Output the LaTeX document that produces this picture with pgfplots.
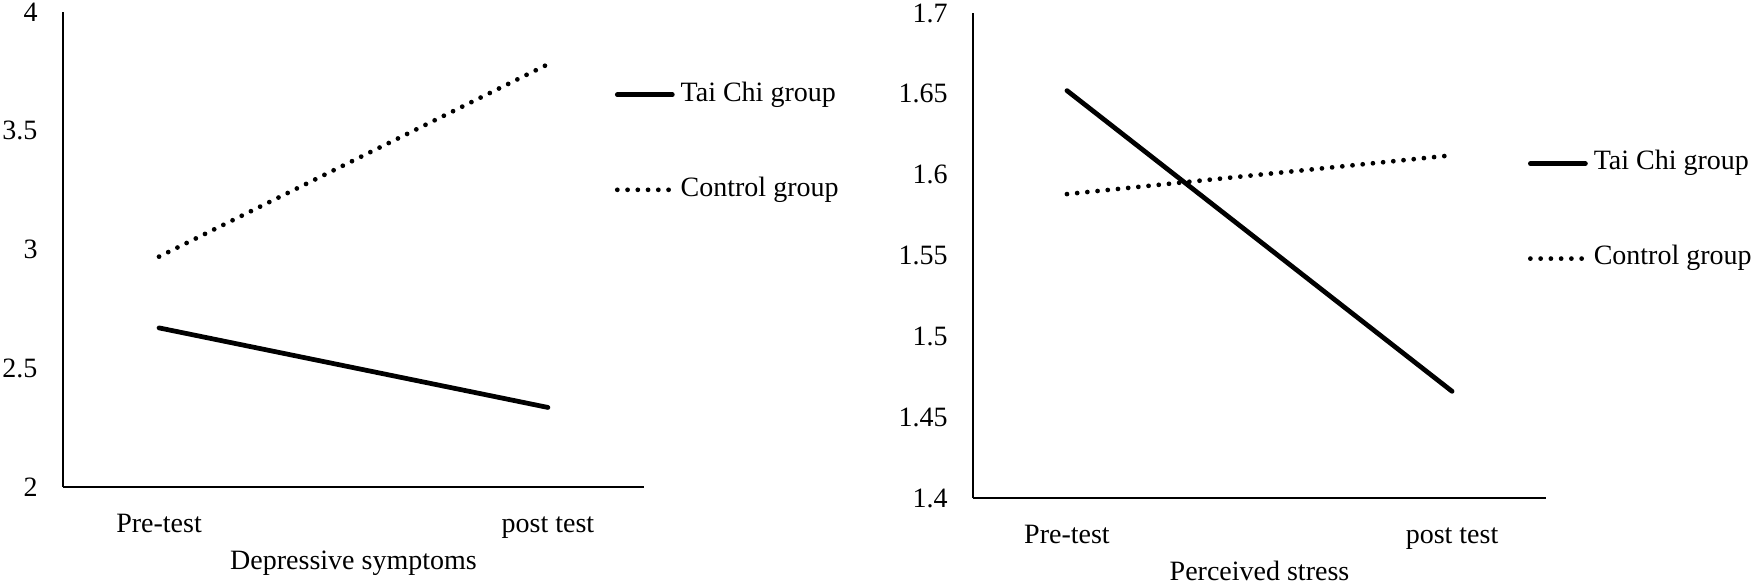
\documentclass[border=0pt]{standalone}
\usepackage{fontspec}
\setmainfont{Liberation Serif}
\newfontfamily\tnr{Liberation Serif}
\usepackage{pgfplots}
\pgfplotsset{compat=1.18}

\newcommand\myfont{\tnr\fontsize{11.2}{13}\selectfont}

\pgfplotsset{
  panel/.style={
    scale only axis,
    clip=false,
    axis x line=bottom,
    axis y line=left,
    axis line style={-, line width=0.7pt, black},
    major tick length=0pt,
    xtick={0,1},
    xticklabels={Pre-test, post test},
    /pgf/number format/assume math mode=true,
    tick label style={font=\myfont},
    xticklabel style={anchor=base, yshift=-18pt},
    yticklabel style={anchor=east, inner sep=0pt, xshift=-10pt},
    xlabel style={font=\myfont, at={(axis description cs:0.5,0)}, anchor=base, yshift=-33pt},
    legend style={draw=none, fill=none, inner sep=0pt, outer sep=0pt,
      font=\myfont, row sep=28pt, column sep=2.4pt,
      nodes={inner sep=0pt, text height=7.5pt, text depth=2.5pt}},
    legend cell align=left,
    legend image code/.code={\draw[##1] (0pt,0pt) -- (22pt,0pt);},
  },
  taichi/.style={black, line width=1.9pt, line cap=round},
  control/.style={black, line width=1.9pt, line cap=round, dash pattern=on 0pt off 4.1pt},
}

\begin{document}
\begin{tikzpicture}
\path[use as bounding box] (0,0) rectangle (702pt,-234pt);

% Depressive symptoms
\begin{axis}[panel,
    at={(25.2pt,-194.8pt)}, anchor=south west,
    width=232.4pt, height=190pt,
    xmin=-0.247, xmax=1.247,
    ymin=2, ymax=4, ytick={2,2.5,3,3.5,4},
    xlabel={Depressive symptoms},
    legend style={at={(0.950,0.852)}, anchor=north west},
]
\addplot[taichi] coordinates {(0,2.67) (1,2.335)};
\addlegendentry{Tai Chi group}
\addplot[control] coordinates {(0,2.97) (1,3.78)};
\addlegendentry{Control group}
\end{axis}

% Perceived stress
\begin{axis}[panel,
    at={(389.2pt,-199.2pt)}, anchor=south west,
    width=229.2pt, height=194pt,
    xmin=-0.244, xmax=1.244,
    ymin=1.4, ymax=1.7, ytick={1.4,1.45,1.5,1.55,1.6,1.65,1.7},
    xlabel={Perceived stress},
    legend style={at={(0.9686,0.7153)}, anchor=north west},
]
\addplot[taichi] coordinates {(0,1.652) (1,1.466)};
\addlegendentry{Tai Chi group}
\addplot[control] coordinates {(0,1.588) (1,1.612)};
\addlegendentry{Control group}
\end{axis}
\end{tikzpicture}
\end{document}
